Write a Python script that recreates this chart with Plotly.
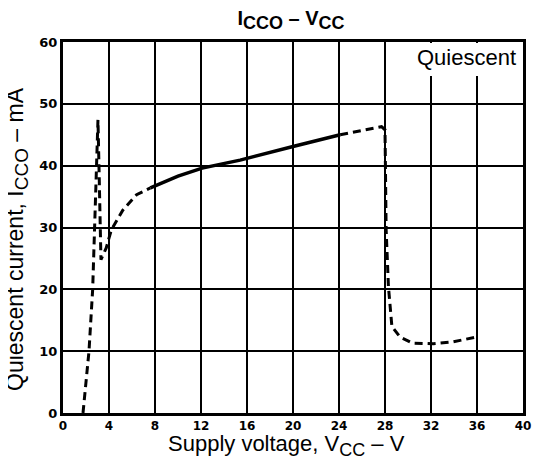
import plotly.graph_objects as go

# Data
x_dash1 = [1.74, 2.26, 2.58, 2.75, 2.9, 3.04, 3.15, 3.3, 3.76, 4.2, 5.2, 6.4, 7.6]
y_dash1 = [0.0, 10.0, 20.0, 30.0, 42.0, 47.4, 38.0, 24.8, 26.7, 29.6, 32.8, 35.3, 36.4]
x_solid = [7.6, 10.0, 12.1, 15.4, 20.0, 24.1]
y_solid = [36.4, 38.3, 39.6, 40.9, 43.1, 45.0]
x_dash2 = [24.1, 27.7, 28.0, 28.1, 28.3, 28.6, 29.3, 30.4, 32.2, 33.9, 36.0]
y_dash2 = [45.0, 46.3, 45.8, 29.6, 20.4, 14.0, 12.3, 11.3, 11.2, 11.5, 12.3]

x_ticks = [0, 4, 8, 12, 16, 20, 24, 28, 32, 36, 40]
y_ticks = [0, 10, 20, 30, 40, 50, 60]

# page has an 8px body margin; figure is sized/margined to compensate
W, H = 536, 450
L, R, T, B = 55, 21, 34, 45
PW, PH = W - L - R, H - T - B

def px(xp):  # page x pixel -> paper fraction
    return (xp - 8 - L) / PW

def py(yp):  # page y pixel -> paper fraction
    return (H - B - (yp - 8)) / PH

def sub(t, size):
    return "<sub><span style='font-size:%dpx'>%s</span></sub>" % (size, t)

fig = go.Figure()
fig.add_trace(go.Scatter(x=x_dash1, y=y_dash1, mode="lines",
                         line=dict(color="black", width=3, dash="8px,5px")))
fig.add_trace(go.Scatter(x=x_solid, y=y_solid, mode="lines",
                         line=dict(color="black", width=3.5)))
fig.add_trace(go.Scatter(x=x_dash2, y=y_dash2, mode="lines",
                         line=dict(color="black", width=3, dash="8px,5px")))

fig.update_layout(
    width=W, height=H,
    margin=dict(l=L, r=R, t=T, b=B),
    plot_bgcolor="white", paper_bgcolor="white",
    showlegend=False,
    font=dict(family="Liberation Sans, Arial", color="black"),
    title=dict(text="<b>I" + sub("CCO", 18) + " – V" + sub("CC", 18) + "</b>",
               x=(291 - 8) / W, xanchor="center", y=1 - (18 - 8) / H, yanchor="middle",
               font=dict(size=20, color="black")),
)
fig.update_xaxes(range=[0, 40], tickvals=x_ticks, ticktext=[str(v) for v in x_ticks],
                 showgrid=True, gridcolor="black", gridwidth=2,
                 showline=True, linecolor="black", linewidth=3, mirror=True,
                 zeroline=False, ticks="",
                 tickfont=dict(size=12, family="DejaVu Sans", color="black", weight="bold"))
fig.update_yaxes(range=[0, 60], tickvals=y_ticks, ticktext=[str(v) for v in y_ticks],
                 showgrid=True, gridcolor="black", gridwidth=2,
                 showline=True, linecolor="black", linewidth=3, mirror=True,
                 zeroline=False, ticks="",
                 tickfont=dict(size=13, family="DejaVu Sans", color="black", weight="bold"))

# white box behind the label, covering grid lines
fig.add_shape(type="rect", xref="x", yref="y", x0=28.4, x1=39.85, y0=54.5, y1=59.85,
              fillcolor="white", line=dict(width=0), layer="between")
fig.add_annotation(x=39.6, y=57.5, xref="x", yref="y", text="Quiescent", showarrow=False,
                   xanchor="right", yanchor="middle", font=dict(size=22, color="black"))

fig.add_annotation(x=px(286), y=py(445), xref="paper", yref="paper",
                   text="Supply voltage, V" + sub("CC", 18) + " – V", showarrow=False,
                   xanchor="center", yanchor="middle", font=dict(size=22, color="black"))
fig.add_annotation(x=px(17), y=py(239), xref="paper", yref="paper",
                   text="Quiescent current, I" + sub("CCO", 19) + " – mA", showarrow=False,
                   textangle=-90,
                   xanchor="center", yanchor="middle", font=dict(size=23, color="black"))

fig.write_html("out.html")
